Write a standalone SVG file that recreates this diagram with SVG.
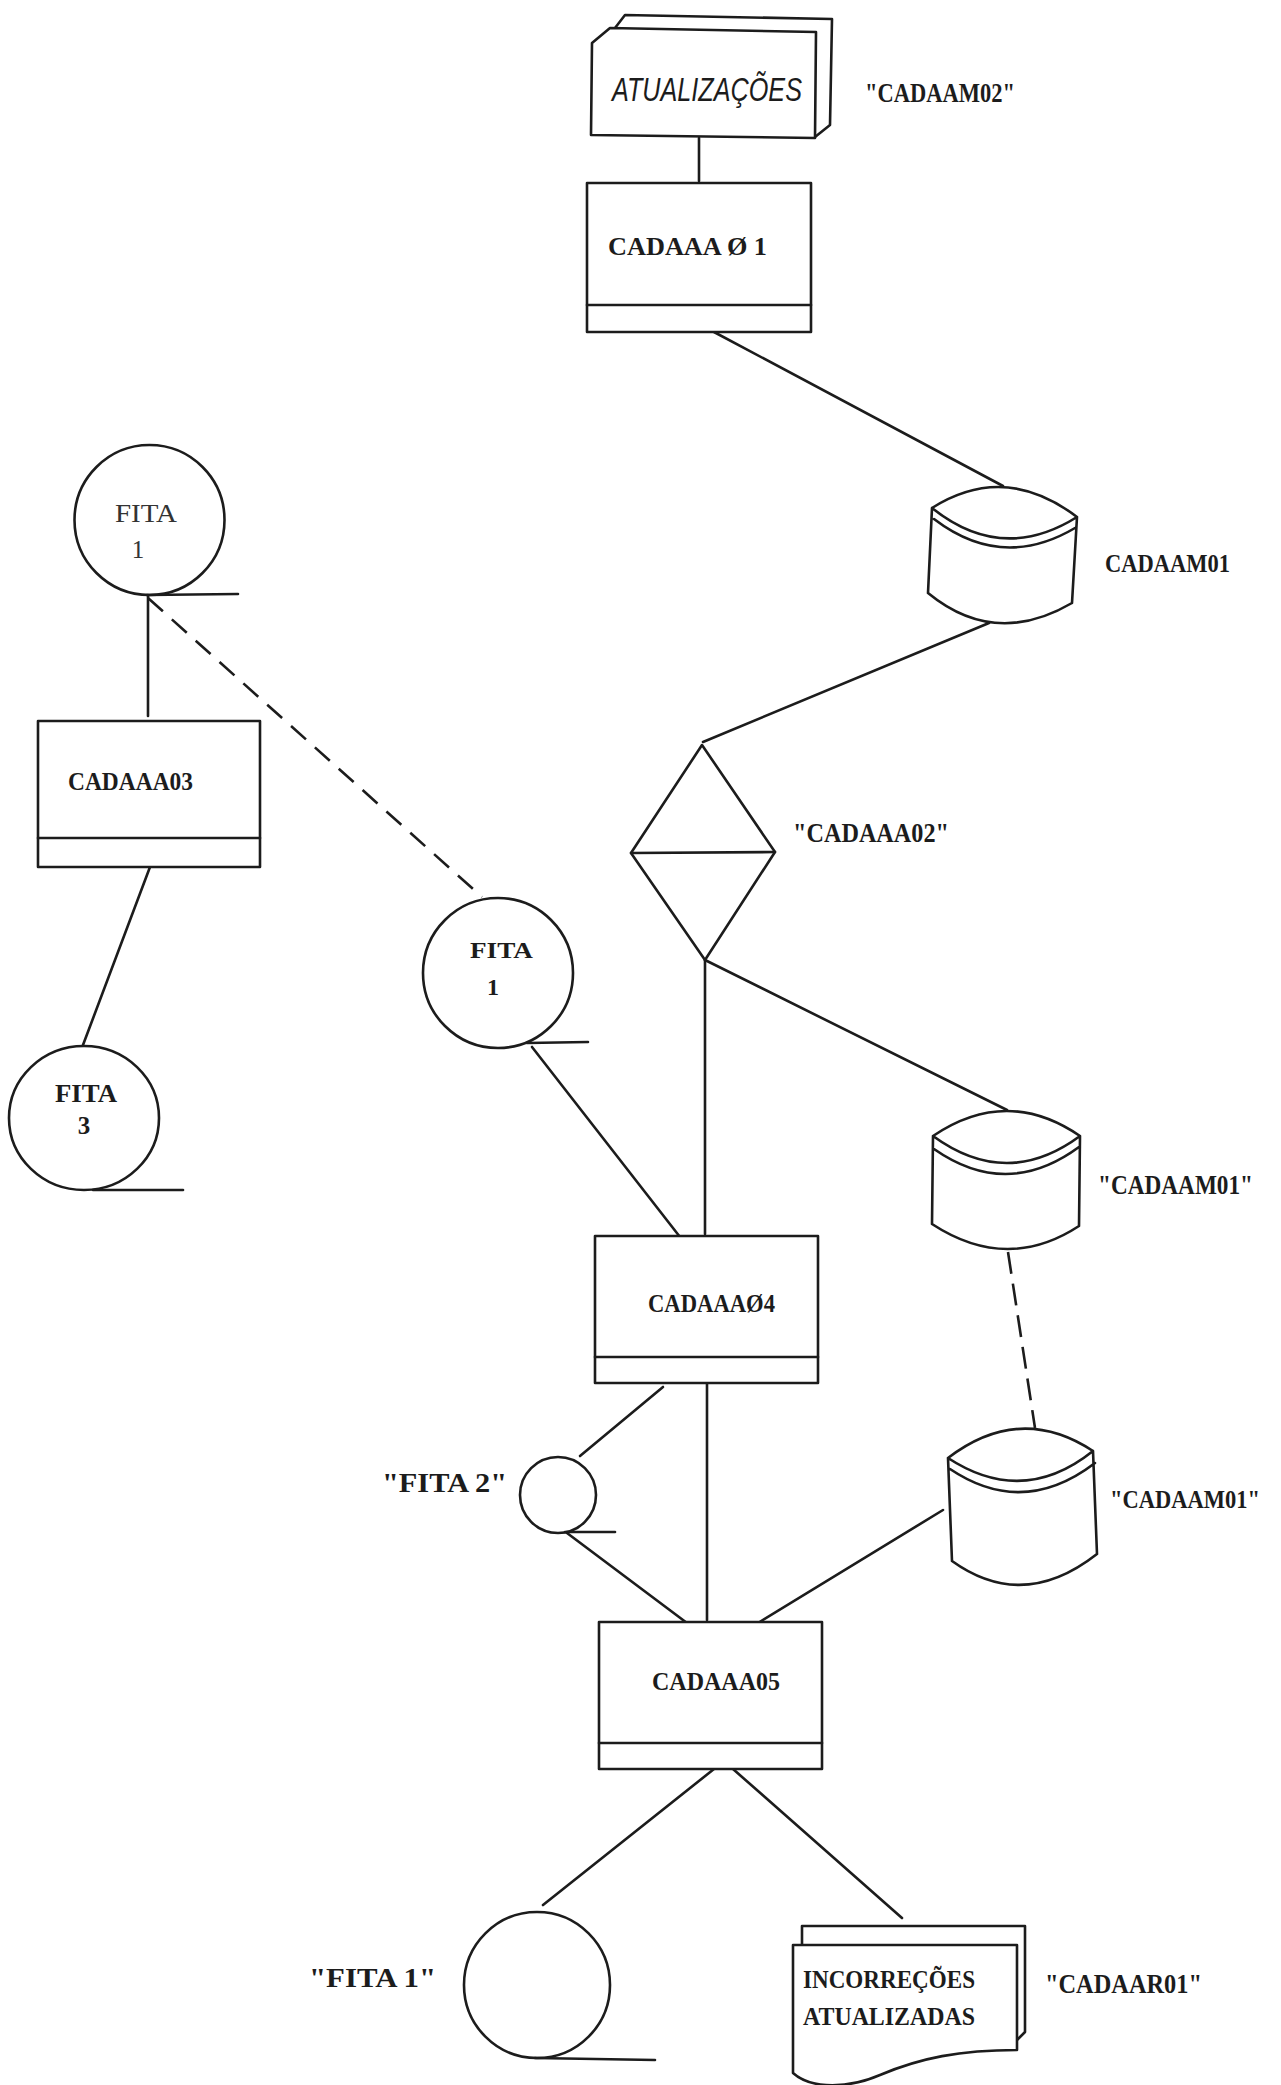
<svg xmlns="http://www.w3.org/2000/svg" width="1281" height="2085" viewBox="0 0 1281 2085">
<style>
.s{fill:none;stroke:#1c1c1c;stroke-width:2.6;stroke-linejoin:round;stroke-linecap:round}
.w{fill:#fff;stroke:#1c1c1c;stroke-width:2.6;stroke-linejoin:round}
.d{fill:none;stroke:#1c1c1c;stroke-width:2.6}
.t{font-family:"Liberation Serif","DejaVu Serif",serif;font-weight:bold;fill:#1c1c1c;font-size:26px}
.q{font-size:27px}
.l{font-family:"Liberation Serif","DejaVu Serif",serif;font-weight:normal;fill:#333;font-size:25px}
.h{font-family:"Liberation Sans","DejaVu Sans",sans-serif;font-style:italic;fill:#1c1c1c;font-size:33px}
</style>
<rect x="0" y="0" width="1281" height="2085" fill="#fff"/>
<g id="connectors">
<line class="s" x1="699" y1="138" x2="699" y2="181"/>
<line class="s" x1="714" y1="332" x2="1003" y2="486"/>
<line class="s" x1="989" y1="623" x2="703" y2="742"/>
<line class="s" x1="705" y1="960" x2="705" y2="1234"/>
<line class="s" x1="705" y1="960" x2="1007" y2="1110"/>
<line class="d" x1="148" y1="598" x2="482" y2="897" stroke-dasharray="20 12"/>
<line class="s" x1="148" y1="596" x2="148" y2="716"/>
<line class="s" x1="150" y1="867" x2="83" y2="1045"/>
<line class="s" x1="532" y1="1047" x2="680" y2="1237"/>
<line class="d" x1="1008" y1="1252" x2="1035" y2="1428" stroke-dasharray="22 10"/>
<line class="s" x1="663" y1="1387" x2="580" y2="1456"/>
<line class="s" x1="707" y1="1383" x2="707" y2="1620"/>
<line class="s" x1="567" y1="1533" x2="687" y2="1623"/>
<line class="s" x1="943" y1="1510" x2="758" y2="1623"/>
<line class="s" x1="714" y1="1769" x2="543" y2="1905"/>
<line class="s" x1="733" y1="1769" x2="902" y2="1918"/>
</g>
<g id="atualizacoes">
<path class="s" d="M615,28 L625,15 L832,19 L830,125 L815,137"/>
<path class="w" d="M592,43 L610,28 L816,32 L815,138 L591,135 Z"/>
<text class="h" x="612" y="101" textLength="190" lengthAdjust="spacingAndGlyphs">ATUALIZAÇÕES</text>
</g>
<g id="label-cadaam02"><text class="t q" x="865" y="102" textLength="150" lengthAdjust="spacingAndGlyphs">"CADAAM02"</text></g>
<g id="cadaaa01">
<rect class="w" x="587" y="183" width="224" height="149"/>
<line class="s" x1="587" y1="305" x2="811" y2="305"/>
<text class="t" x="608" y="255" textLength="159" lengthAdjust="spacingAndGlyphs">CADAAA Ø 1</text>
</g>
<g id="cadaam01-a">
<path class="s" d="M932,508 Q1005,462 1077,517 M932,508 Q1002,564 1077,517 M934,519 Q1002,571 1075,528 M932,508 L928,593 M1077,517 L1072,603 M928,593 Q995,648 1072,603"/>
<text class="t" x="1105" y="572" textLength="125" lengthAdjust="spacingAndGlyphs">CADAAM01</text>
</g>
<g id="cadaaa02">
<path class="w" d="M702,745 L775,852 L705,960 L631,853 Z"/>
<line class="s" x1="631" y1="853" x2="775" y2="852"/>
<text class="t q" x="793" y="842" textLength="156" lengthAdjust="spacingAndGlyphs">"CADAAA02"</text>
</g>
<g id="fita1-left">
<circle class="w" cx="149.5" cy="520" r="75"/>
<line class="s" x1="147" y1="595" x2="238" y2="594"/>
<text class="l" x="115" y="522" textLength="62" lengthAdjust="spacingAndGlyphs">FITA</text>
<text class="l" x="138" y="558" text-anchor="middle">1</text>
</g>
<g id="cadaaa03">
<rect class="w" x="38" y="721" width="222" height="146"/>
<line class="s" x1="38" y1="838" x2="260" y2="838"/>
<text class="t" x="68" y="790" textLength="125" lengthAdjust="spacingAndGlyphs">CADAAA03</text>
</g>
<g id="fita3">
<ellipse class="w" cx="84" cy="1118" rx="75" ry="72"/>
<line class="s" x1="93" y1="1190" x2="183" y2="1190"/>
<text class="t" x="55" y="1102" textLength="62" lengthAdjust="spacingAndGlyphs" style="font-size:25px">FITA</text>
<text class="t" x="84" y="1134" text-anchor="middle" style="font-size:25px">3</text>
</g>
<g id="fita1-mid">
<circle class="w" cx="498" cy="973" r="75"/>
<line class="s" x1="527" y1="1043" x2="588" y2="1042"/>
<text class="t" x="470" y="958" textLength="63" lengthAdjust="spacingAndGlyphs" style="font-size:24px">FITA</text>
<text class="t" x="493" y="995" text-anchor="middle" style="font-size:24px">1</text>
</g>
<g id="cadaam01-b">
<path class="s" d="M933,1136 Q1007,1086 1080,1136 M933,1136 Q1007,1190 1080,1136 M934,1149 Q1007,1200 1079,1147 M933,1136 L932,1224 M1080,1136 L1079,1226 M932,1224 Q1007,1273 1079,1226"/>
<text class="t q" x="1098" y="1194" textLength="155" lengthAdjust="spacingAndGlyphs">"CADAAM01"</text>
</g>
<g id="cadaaa04">
<rect class="w" x="595" y="1236" width="223" height="147"/>
<line class="s" x1="595" y1="1357" x2="818" y2="1357"/>
<text class="t" x="648" y="1312" textLength="127" lengthAdjust="spacingAndGlyphs">CADAAAØ4</text>
</g>
<g id="fita2">
<circle class="w" cx="558" cy="1495" r="38"/>
<line class="s" x1="565" y1="1532" x2="615" y2="1532"/>
<text class="t q" x="382" y="1492" textLength="125" lengthAdjust="spacingAndGlyphs">"FITA 2"</text>
</g>
<g id="cadaam01-c">
<path class="s" d="M948,1458 Q1020,1403 1093,1451 M948,1458 Q1023,1507 1093,1451 M950,1469 Q1023,1518 1095,1463 M948,1458 L952,1561 M1093,1451 L1097,1554 M952,1561 Q1023,1612 1097,1554"/>
<text class="t" x="1110" y="1508" textLength="150" lengthAdjust="spacingAndGlyphs" style="font-size:25px">"CADAAM01"</text>
</g>
<g id="cadaaa05">
<rect class="w" x="599" y="1622" width="223" height="147"/>
<line class="s" x1="599" y1="1743" x2="822" y2="1743"/>
<text class="t" x="652" y="1690" textLength="128" lengthAdjust="spacingAndGlyphs">CADAAA05</text>
</g>
<g id="fita1-bottom">
<circle class="w" cx="537" cy="1985" r="73"/>
<line class="s" x1="535" y1="2058" x2="655" y2="2060"/>
<text class="t q" x="309" y="1987" textLength="127" lengthAdjust="spacingAndGlyphs">"FITA 1"</text>
</g>
<g id="cadaar01">
<path class="s" d="M802,1944 L802,1926 L1025,1926 L1025,2032 L1017,2040"/>
<path class="w" d="M793,1945 L1017,1945 L1017,2050 C960,2050 920,2058 880,2075 C850,2088 812,2090 793,2073 Z"/>
<text class="t" x="803" y="1988" textLength="172" lengthAdjust="spacingAndGlyphs">INCORREÇÕES</text>
<text class="t" x="803" y="2025" textLength="172" lengthAdjust="spacingAndGlyphs">ATUALIZADAS</text>
<text class="t q" x="1045" y="1993" textLength="157" lengthAdjust="spacingAndGlyphs">"CADAAR01"</text>
</g>
</svg>
